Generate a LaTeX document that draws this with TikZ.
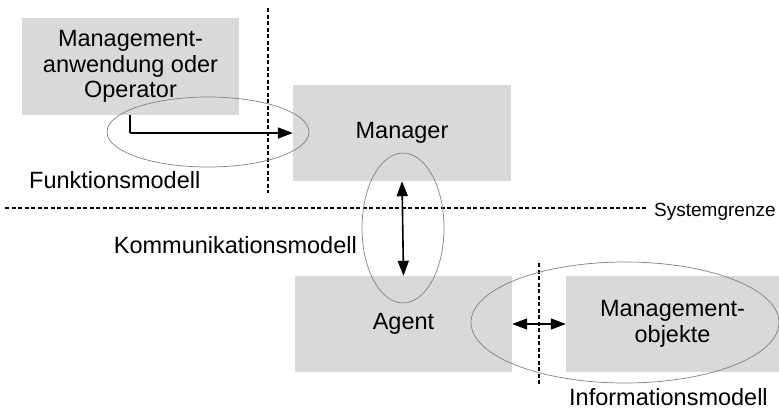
\documentclass[tikz,border=0pt]{standalone}
\usepackage{fontspec}
\setmainfont{Liberation Sans}
\usetikzlibrary{arrows.meta,shapes.geometric}
\definecolor{boxgray}{HTML}{D9D9D9}
\definecolor{ellgray}{HTML}{808080}
\begin{document}
\begin{tikzpicture}[x=1pt,y=-1pt,
  box/.style={fill=boxgray,draw=none,inner sep=0pt,align=center,
    font=\fontsize{23.5}{25.5}\selectfont},
  lbl/.style={inner sep=0pt,font=\fontsize{23.5}{25.5}\selectfont},
  ell/.style={ellipse,draw=ellgray,line width=0.7pt,inner sep=0pt},
  sep/.style={dashed,dash pattern=on 4pt off 2.5pt,line width=1.2pt,black},
  arr/.style={line width=1.6pt,-{Triangle[length=15pt,width=11pt]}},
  darr/.style={line width=1.6pt,{Triangle[length=15pt,width=11pt]}-{Triangle[length=15pt,width=11pt]}}]
\useasboundingbox (0,0) rectangle (779,410);
% boxes
\node[box,minimum width=217pt,minimum height=97pt] (app) at (130.5,66.5) {Management-\\anwendung oder\\Operator};
\node[box,minimum width=218pt,minimum height=96pt] (mgr) at (402,133) {Manager};
\node[box,minimum width=217pt,minimum height=96pt] (agent) at (403.5,324) {Agent};
\node[box,minimum width=213pt,minimum height=96pt] (mo) at (672.5,324) {Management-\\objekte};
% separators
\coordinate (v1t) at (268,8);
\coordinate (v1b) at (268,193);
\draw[sep] (v1t) -- (v1b);
\coordinate (v2t) at (539,263);
\coordinate (v2b) at (539,385);
\draw[sep] (v2t) -- (v2b);
\node[inner sep=0pt,anchor=base west,font=\fontsize{19}{21}\selectfont] (sg) at (654,216) {Systemgrenze};
\coordinate (hl) at (5,208);
\coordinate (hr) at (647,208);
\draw[sep] (hl) -- (hr);
% ellipses
\node[ell,minimum width=202pt,minimum height=70pt] (e1) at (208,132) {};
\node[ell,minimum width=82pt,minimum height=150pt] (e2) at (403,228) {};
\node[ell,minimum width=308pt,minimum height=121pt] (e3) at (625,322.5) {};
% arrows
\coordinate (a1) at (130,133);
\draw[line width=1.6pt] (app.south -| a1) -- (a1);
\draw[arr] (a1) -- (mgr.west);
\draw[darr] (mgr.south) -- (agent.north);
\draw[darr] (agent.east) -- (mo.west);
% labels
\node[lbl,anchor=base west] (fm) at (29,188) {Funktionsmodell};
\node[lbl,anchor=base east] (km) at (357,253) {Kommunikationsmodell};
\node[lbl,anchor=base west] (im) at (569,405) {Informationsmodell};
\end{tikzpicture}
\end{document}
